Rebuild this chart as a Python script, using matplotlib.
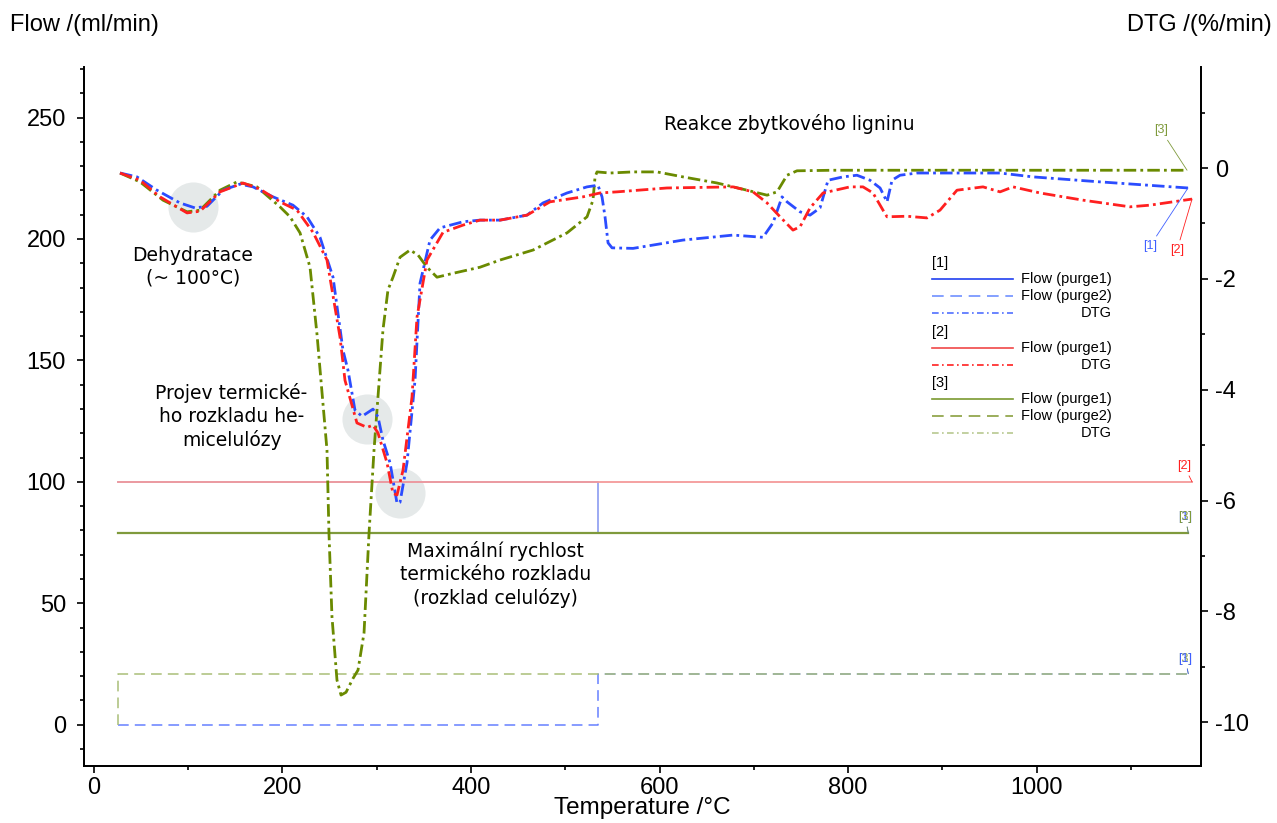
import matplotlib
matplotlib.use("Agg")
import matplotlib.pyplot as plt

plt.rcParams["axes.unicode_minus"] = False

W, H = 1277, 823

# DTG curves, temperature in degC, DTG in %/min
t_dtg1 = [27.6, 45.6, 66.8, 91.2, 107.2, 119.9, 136.9, 154.9, 168.7, 189.9, 211.1, 226.0, 239.8,
          253.6, 264.2, 269.5, 276.9, 284.4, 296.0, 301.3, 306.6, 314.1, 321.5, 324.7, 332.1, 340.6,
          345.9, 356.5, 367.1, 391.5, 409.5, 430.8, 459.4, 476.4, 501.9, 523.1, 534.7, 539.0, 542.2,
          545.4, 549.6, 571.9, 624.9, 678.0, 709.8, 720.4, 730.0, 735.3, 749.1, 759.7, 770.3, 778.8,
          794.7, 809.5, 823.3, 834.0, 841.4, 846.7, 855.2, 873.2, 961.3, 996.3, 1067.4, 1160.7]
dtg1 = [-0.09, -0.16, -0.40, -0.63, -0.72, -0.69, -0.40, -0.29, -0.34, -0.52, -0.67, -0.88, -1.25,
        -1.97, -3.29, -3.65, -4.37, -4.48, -4.35, -4.49, -4.91, -5.32, -6.05, -6.03, -5.32, -3.83,
        -2.08, -1.30, -1.08, -0.97, -0.94, -0.94, -0.85, -0.63, -0.45, -0.34, -0.31, -0.52, -0.88,
        -1.35, -1.44, -1.45, -1.30, -1.21, -1.25, -0.99, -0.52, -0.61, -0.79, -0.85, -0.72, -0.22,
        -0.16, -0.13, -0.22, -0.36, -0.61, -0.22, -0.13, -0.09, -0.09, -0.16, -0.25, -0.36]

t_dtg2 = [27.6, 48.8, 70.0, 98.7, 112.5, 133.7, 158.1, 176.1, 197.3, 215.4, 232.4, 247.2, 261.0,
          266.3, 279.0, 289.7, 296.0, 301.3, 310.9, 317.2, 321.5, 327.9, 337.4, 342.7, 353.3, 370.3,
          391.5, 409.5, 430.8, 459.4, 483.8, 518.8, 536.9, 554.9, 607.9, 678.0, 699.2, 714.1, 727.9,
          741.6, 749.1, 759.7, 773.5, 802.1, 815.9, 826.5, 837.1, 841.4, 862.6, 883.8, 897.6, 915.6,
          943.2, 961.3, 975.1, 1003.7, 1049.3, 1099.2, 1120.4, 1165.0]
dtg2 = [-0.09, -0.22, -0.52, -0.81, -0.78, -0.43, -0.27, -0.38, -0.61, -0.76, -1.16, -1.66, -3.05,
        -3.83, -4.60, -4.68, -4.64, -4.78, -5.32, -5.87, -5.90, -5.45, -4.13, -2.69, -1.66, -1.16,
        -1.03, -0.94, -0.94, -0.85, -0.61, -0.52, -0.45, -0.43, -0.36, -0.34, -0.43, -0.63, -0.88,
        -1.12, -1.06, -0.72, -0.45, -0.34, -0.34, -0.45, -0.76, -0.88, -0.87, -0.90, -0.76, -0.40,
        -0.34, -0.43, -0.34, -0.45, -0.58, -0.70, -0.67, -0.56]

t_dtg3 = [27.6, 48.8, 73.2, 98.7, 112.5, 133.7, 151.7, 172.9, 197.3, 208.0, 218.6, 229.2, 236.6,
          247.2, 249.3, 252.5, 257.8, 262.1, 267.4, 274.8, 280.1, 286.5, 291.8, 297.1, 306.6, 311.9,
          317.2, 324.7, 335.3, 343.8, 353.3, 363.9, 380.9, 409.5, 430.8, 465.8, 501.9, 523.1, 529.4,
          531.6, 533.7, 547.5, 571.9, 597.3, 624.9, 661.0, 692.8, 714.1, 724.7, 735.3, 745.9, 784.1,
          855.2, 1159.7]
dtg3 = [-0.09, -0.25, -0.58, -0.79, -0.76, -0.40, -0.25, -0.34, -0.70, -0.88, -1.17, -1.79, -3.0,
        -5.09, -6.59, -8.10, -9.24, -9.51, -9.46, -9.21, -9.06, -8.39, -6.59, -5.09, -2.92, -2.20,
        -1.97, -1.61, -1.48, -1.57, -1.79, -1.97, -1.90, -1.79, -1.66, -1.48, -1.17, -0.88, -0.58,
        -0.16, -0.07, -0.09, -0.07, -0.07, -0.16, -0.27, -0.40, -0.49, -0.43, -0.13, -0.05, -0.04,
        -0.04, -0.04]

# gas flows, ml/min
t_flow1_p1 = [25, 535, 535, 1161]
flow1_p1 = [100, 100, 79, 79]
t_flow1_p2 = [25, 535, 535, 1161]
flow1_p2 = [0, 0, 21, 21]
t_flow2_p1 = [25, 1165]
flow2_p1 = [100, 100]
t_flow3_p1 = [25, 1161]
flow3_p1 = [79, 79]
t_flow3_p2 = [25, 25, 1161]
flow3_p2 = [0, 21, 21]

# highlighted regions (grey discs)
circle_t = [105, 290, 325]
circle_flow = [213, 126, 95.5]

blue = "#2b4cff"
red = "#ff2020"
olive = "#6a8a00"
dashdot = (0, (4.5, 1.5, 1, 1.5))

fig = plt.figure(figsize=(W / 100, H / 100), dpi=100)
ax = fig.add_axes([84 / W, 1 - 766 / H, (1201 - 84) / W, (766 - 67) / H])
ax2 = ax.twinx()

ax.scatter(circle_t, circle_flow, s=1300, color="#e5e9e9", zorder=0, linewidths=0)

ax.plot(t_flow1_p1, flow1_p1, color="#8193f0", lw=1.1)
ax.plot(t_flow1_p2, flow1_p2, color="#6680ff", lw=1.1, ls=(0, (7, 4)))
ax.plot(t_flow3_p2, flow3_p2, color="#a9bf78", lw=1.1, ls=(0, (7, 4)))
ax.plot(t_flow2_p1, flow2_p1, color="#f49a9a", lw=1.3)
ax.plot(t_flow3_p1, flow3_p1, color="#7f9a3c", lw=1.6)

ax2.plot(t_dtg3, dtg3, color=olive, lw=2, ls=dashdot)
ax2.plot(t_dtg1, dtg1, color=blue, lw=2, ls=dashdot)
ax2.plot(t_dtg2, dtg2, color=red, lw=2, ls=dashdot)

ax.set_xlim(-10.6, 1174.5)
ax.set_ylim(-17, 270.8)
ax2.set_ylim(-10.79, 1.823)

ax.set_xticks(range(0, 1001, 200))
ax.set_xticks(range(100, 1200, 200), minor=True)
ax.set_yticks(range(0, 251, 50))
ax.set_yticks([v for v in range(-10, 271, 10) if v % 50 != 0], minor=True)
ax2.set_yticks(range(-10, 1, 2))
ax2.set_yticks(range(-9, 2, 2), minor=True)

for a in (ax, ax2):
    a.spines["top"].set_visible(False)
    for s in a.spines.values():
        s.set_linewidth(1.3)
    a.tick_params(which="major", length=5, width=1.2, labelsize=17, pad=8)
    a.tick_params(which="minor", length=3, width=1.2)
    for lab in a.get_xticklabels() + a.get_yticklabels():
        lab.set_fontfamily("Liberation Sans")
ax.tick_params(axis="x", pad=3)
ax2.tick_params(axis="y", pad=5)

fig.text(10 / W, 1 - 25 / H, "Flow /(ml/min)", fontsize=17, family="Liberation Sans", va="center")
fig.text(1272 / W, 1 - 25 / H, "DTG /(%/min)", fontsize=17, family="Liberation Sans",
         va="center", ha="right")
fig.text(642 / W, 1 - 808 / H, "Temperature /°C", fontsize=17.5, family="Liberation Sans",
         va="center", ha="center")

note = dict(fontsize=13.5, family="DejaVu Sans", ha="center", va="center", linespacing=1.25)
ax.text(105, 188.5, "Dehydratace\n(~ 100°C)", **note)
ax.text(146, 127, "Projev termické-\nho rozkladu he-\nmicelulózy", **note)
ax.text(426, 61.7, "Maximální rychlost\ntermického rozkladu\n(rozklad celulózy)", **note)
ax.text(738, 247.5, "Reakce zbytkového ligninu", **note)

# end labels with leader lines
def end_label(a, x, y, text, color, dx, dy):
    a.annotate(text, xy=(x, y), xytext=(dx, dy), textcoords="offset pixels",
               ha="center", va="center", fontsize=9, color=color, family="Liberation Sans",
               arrowprops=dict(arrowstyle="-", color=color, lw=0.6, shrinkA=1, shrinkB=0))

end_label(ax2, t_dtg3[-1], dtg3[-1], "[3]", "#7f9a3c", -26, 40)
end_label(ax2, t_dtg1[-1], dtg1[-1], "[1]", "#4060ff", -38, -58)
end_label(ax2, t_dtg2[-1], dtg2[-1], "[2]", red, -15, -51)
end_label(ax, t_flow2_p1[-1], flow2_p1[-1], "[2]", red, -8, 16)
end_label(ax, t_flow1_p1[-1], flow1_p1[-1], "[1]", "#4060ff", -3, 16)
end_label(ax, t_flow3_p1[-1], flow3_p1[-1], "[3]", "#7f9a3c", -3, 16)
end_label(ax, t_flow3_p2[-1], flow3_p2[-1], "[3]", "#8aa24a", -3, 15)
end_label(ax, t_flow1_p2[-1], flow1_p2[-1], "[1]", "#4060ff", -3, 15)

# legend, drawn by hand
leg_rows = [
    (263, "[1]", None, None),
    (279, "Flow (purge1)", "#2040f0", "-"),
    (296, "Flow (purge2)", "#7090ff", (0, (7, 4))),
    (313, "DTG", "#5070ff", (0, (4, 2, 1, 2))),
    (332, "[2]", None, None),
    (348, "Flow (purge1)", "#f04848", "-"),
    (365, "DTG", red, (0, (4, 2, 1, 2))),
    (383, "[3]", None, None),
    (399, "Flow (purge1)", "#7a9a30", "-"),
    (416, "Flow (purge2)", "#8aa040", (0, (7, 4))),
    (433, "DTG", "#b8c890", (0, (4, 2, 1, 2))),
]
for y, label, color, style in leg_rows:
    fy = 1 - y / H
    if color is None:
        fig.text(932 / W, fy, label, fontsize=10.5, family="Liberation Sans", va="center")
    else:
        ax2.plot([932 / W, 1013 / W], [fy, fy], transform=fig.transFigure, clip_on=False,
                 color=color, lw=1.2, ls=style)
        fig.text(1112 / W, fy, label, fontsize=10.5, family="Liberation Sans",
                 va="center", ha="right")

fig.savefig("out.png", dpi=100)
